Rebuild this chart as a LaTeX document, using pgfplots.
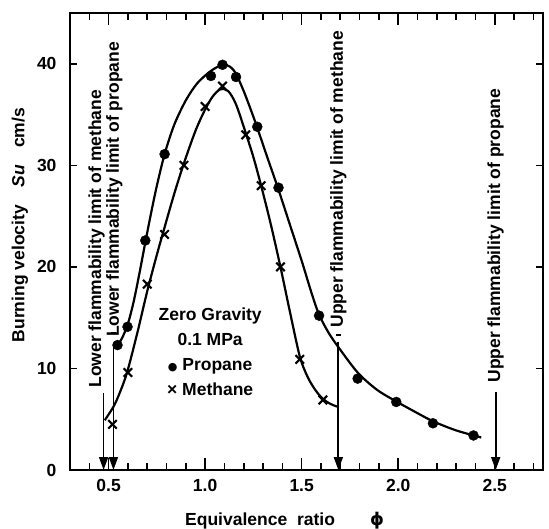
\documentclass[border=0pt]{standalone}
\usepackage{pgfplots}
\pgfplotsset{compat=1.18}
\usepackage{fontspec}
\setmainfont{Liberation Sans}
\newfontfamily\djv{DejaVu Sans}
\usetikzlibrary{arrows.meta}
\newcommand\lbl{\fontsize{17.5}{20}\selectfont\bfseries}

% propane: measured burning velocity and the fitted curve
\pgfplotstableread{
phi   su
0.546 12.3
0.598 14.1
0.69  22.6
0.79  31.1
1.03  38.8
1.09  39.9
1.16  38.7
1.27  33.8
1.38  27.8
1.59  15.2
1.79  9.0
1.99  6.7
2.18  4.6
2.39  3.4
}\propane
\pgfplotstableread{
phi   su
0.546 12.3
0.57  13.0
0.60  14.4
0.63  16.6
0.66  19.4
0.69  22.4
0.72  25.3
0.75  28.0
0.79  31.1
0.84  34.0
0.90  36.4
0.96  38.1
1.03  39.3
1.09  39.9
1.13  39.7
1.16  39.0
1.20  37.3
1.24  35.3
1.27  33.7
1.32  30.9
1.38  27.6
1.44  24.1
1.50  20.6
1.55  17.5
1.59  15.3
1.64  13.5
1.69  12.1
1.79  9.6
1.89  7.9
1.99  6.75
2.09  5.7
2.18  4.8
2.30  3.9
2.43  3.2
}\propanefit
% methane
\pgfplotstableread{
phi   su
0.52  4.5
0.60  9.6
0.70  18.3
0.79  23.2
0.89  30.0
1.00  35.8
1.09  37.8
1.21  33.0
1.29  28.0
1.39  20.0
1.49  10.9
1.61  6.9
}\methane
\pgfplotstableread{
phi   su
0.48  4.9
0.53  6.4
0.57  8.2
0.60  9.9
0.65  13.6
0.70  17.6
0.75  21.2
0.79  23.9
0.84  27.2
0.89  30.2
0.95  33.4
1.00  35.5
1.04  36.8
1.08  37.5
1.12  37.3
1.16  36.0
1.21  33.2
1.25  30.8
1.29  28.0
1.34  24.2
1.39  20.0
1.44  15.5
1.49  11.2
1.53  9.2
1.57  7.9
1.61  7.0
1.65  6.5
1.69  6.2
}\methanefit

\begin{document}
\begin{tikzpicture}
\begin{axis}[
  at={(0pt,0pt)}, anchor=south west,
  scale only axis, width=473pt, height=457pt,
  xmin=0.3, xmax=2.75, ymin=0, ymax=45,
  xtick={0.5,1.0,1.5,2.0,2.5},
  xticklabels={0.5,1.0,1.5,2.0,2.5},
  minor xtick={0.4,0.6,0.7,0.8,0.9,1.1,1.2,1.3,1.4,1.6,1.7,1.8,1.9,2.1,2.2,2.3,2.4,2.6,2.7},
  ytick={0,10,20,30,40},
  yticklabels={0,10,20,30,40},
  minor ytick={10,20,30,40},
  major y tick style={draw=none},
  tick align=inside,
  major tick length=12pt, minor tick length=7pt,
  tick style={black, line width=1.6pt},
  axis line style={line width=2.8pt},
  tick label style={font=\lbl},
  xticklabel style={yshift=-6pt},
  yticklabel style={xshift=-10pt},
  clip=false,
]
\addplot[line width=2.2pt, smooth, tension=0.5] table {\propanefit};
\addplot[line width=2.2pt, smooth, tension=0.5] table {\methanefit};
\addplot[only marks, mark=*, mark size=5pt, fill=black] table {\propane};
\addplot[only marks, mark=x, mark size=6pt, line width=2.1pt] table {\methane};

% flammability limits
\addplot[line width=1.8pt, -{Triangle[width=9pt,length=13pt]}] coordinates {(0.474,7.6) (0.474,0)};
\addplot[line width=1.8pt, -{Triangle[width=9pt,length=13pt]}] coordinates {(0.525,12.5) (0.525,0)};
\addplot[line width=1.8pt, -{Triangle[width=9pt,length=13pt]}] coordinates {(1.69,12.6) (1.69,0)};
\addplot[line width=1.8pt, -{Triangle[width=9pt,length=13pt]}] coordinates {(2.505,7.7) (2.505,0)};
\addplot[line width=1.6pt] coordinates {(0.512,13.5) (0.538,13.5)};
\addplot[line width=1.6pt] coordinates {(1.677,13.3) (1.703,13.3)};

\node[rotate=90, anchor=west, inner sep=0, font=\lbl] at (axis cs:0.438,8.1) {Lower flammability limit of methane};
\node[rotate=90, anchor=west, inner sep=0, font=\lbl] at (axis cs:0.53,13.1) {Lower flammability limit of propane};
\node[rotate=90, anchor=west, inner sep=0, font=\lbl] at (axis cs:1.69,14.0) {Upper flammability limit of methane};
\node[rotate=90, anchor=west, inner sep=0, font=\lbl] at (axis cs:2.505,8.6) {Upper flammability limit of propane};

\node[align=center, inner sep=0, font=\fontsize{17.5}{25}\selectfont\bfseries] at (axis cs:1.026,11.65)
  {Zero Gravity\\0.1 MPa\\{\djv\fontsize{11}{11}\selectfont ●} Propane\\× Methane};

\node[rotate=90, font=\lbl] at (axis description cs:-0.1057,0.536) {Burning velocity\quad{\itshape Su}\quad cm/s};
\node[anchor=base west, inner sep=0, font=\lbl] at (axis description cs:0.2431,-0.1204) {Equivalence\ \ ratio};
\node[anchor=base, inner sep=0, font=\lbl] at (axis description cs:0.649,-0.1204) {\djv\bfseries ϕ};
\end{axis}
\pgfresetboundingbox
\path (-70pt,-58pt) rectangle (479pt,470pt);
\end{tikzpicture}
\end{document}
